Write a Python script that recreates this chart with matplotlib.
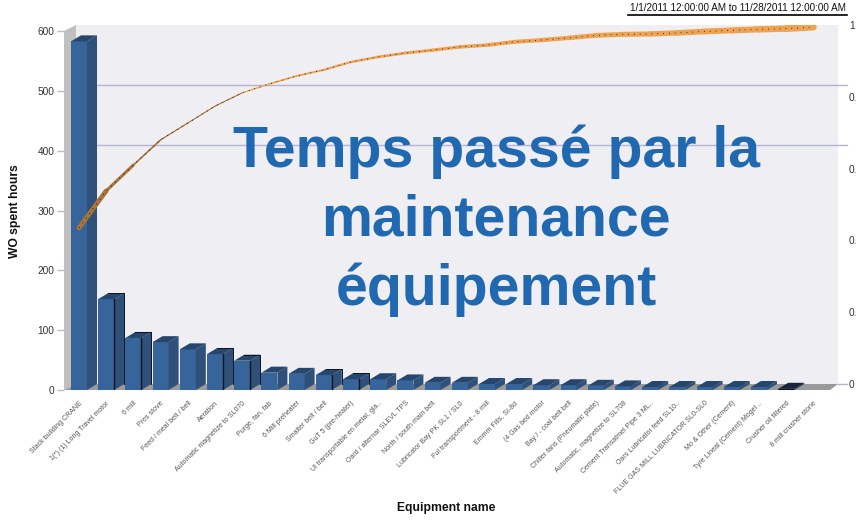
import numpy as np
import matplotlib.pyplot as plt
from matplotlib.patches import Polygon

# Pareto of maintenance hours per equipment
equipment = [
    "Stack building CRANE", "1(*) (1) Long Travel motor", "6 mill", "Pres stove",
    "Feed / meal belt / bell", "Aeration", "Automatic magnetize to SL070",
    "Purge, fan, fab", "6 Mill preheater", "Smalter belt / bell",
    "GuT 5 (pre-heater)", "Ul transportable en metal, gla..",
    "Oard / alternar SLEVL TPS", "North / south main belt",
    "Lubricator Bay PK SL1 / SL0", "Ful transportment - 8 mill",
    "Emmm Fills, SI-8d", "(4 Gas bed motor", "Bay / - coal belt bell",
    "Chiller fans (Pneumatic plate)", "Automatic, magnetize to SL708",
    "Cement Transatmel Pipe 3 ML..", "Oars Lubricator feed SL10..",
    "FLUE GAS MILL LUBRICATOR SL0-SL0", "Mo & Other (Cement)",
    "Tyre Lineal (Cement) Mogel ..", "Crusher oil filtered", "8 mill crusher stone",
]
wo_hours = [583, 152, 87, 80, 68, 60, 49, 29, 27, 25, 18, 18, 16, 12,
            12, 10, 10, 8, 8, 7, 6, 5, 5, 5, 5, 5, 2, 0]
cumulative = [0.435, 0.538, 0.61, 0.68, 0.727, 0.774, 0.811, 0.836, 0.858, 0.875,
              0.897, 0.911, 0.922, 0.930, 0.939, 0.944, 0.953, 0.958, 0.964, 0.971,
              0.974, 0.975, 0.978, 0.982, 0.985, 0.988, 0.99, 0.994]
left_ticks = [0, 100, 200, 300, 400, 500, 600]
right_ticks = [0, 0.2, 0.4, 0.6, 0.8, 1]
right_labels = ["0", "0.", "0.", "0.", "0.", "1"]
grid_levels = [400, 500]

WIDTH, HEIGHT = 859, 520
bar_color = '#37659b'
side_color = '#2f5079'
top_color = '#26466e'
wall_color = '#eeeef3'
tick_color = '#b9b9d6'
title_color = '#2068b0'

fig = plt.figure(figsize=(WIDTH / 100, HEIGHT / 100), dpi=100)
plt.rcParams['font.family'] = ['Liberation Sans', 'DejaVu Sans']
ax = fig.add_axes([64 / WIDTH, 1 - 390 / HEIGHT, (838 - 64) / WIDTH, 365 / HEIGHT])

step = 27.2
ax.set_xlim((64 - 79) / step, (838 - 79) / step)
ax.set_ylim(0, 365 / 0.598)
ax.set_facecolor('white')

x_lo, x_hi = ax.get_xlim()
y_hi = ax.get_ylim()[1]
depth_x = 10 / step
depth_y = 6 / 0.598
wall_x = x_lo + 12 / step
bar_width = 16 / step

# 3D box: back wall, left wall and floor
ax.add_patch(Polygon([(wall_x, depth_y), (wall_x, y_hi), (x_hi, y_hi), (x_hi, depth_y)],
                     color=wall_color, lw=0, zorder=1))
ax.add_patch(Polygon([(x_lo, 0), (x_lo, y_hi - depth_y), (wall_x, y_hi), (wall_x, depth_y)],
                     color='#c0c0c0', lw=0, zorder=1))
ax.add_patch(Polygon([(x_lo, 0), (wall_x, depth_y), (x_hi, depth_y), (x_hi - 8 / step, 0)],
                     color='#9a9a9a', lw=0, zorder=1))

for level in grid_levels:
    ax.plot([wall_x, x_hi + 9 / step], [level + depth_y] * 2, color='#b4b4d2', lw=1,
            clip_on=False, zorder=2)
ax.plot([x_hi, x_hi + 9 / step], [depth_y] * 2, color='#b4b4d2', lw=1, clip_on=False, zorder=2)

xs = np.arange(len(wo_hours))
black_edge = [1, 2, 5, 6, 9, 10]
for i, h in zip(xs, wo_hours):
    if h == 0:
        continue
    x0 = i - bar_width / 2
    x1 = i + bar_width / 2
    z = 3 + 0.01 * i
    front, side, top = bar_color, side_color, top_color
    if i == len(xs) - 2:
        # this one renders almost black in the source
        front, side, top = '#0c1420', '#1f3554', '#16263e'
    ax.bar(i, h, width=bar_width, color=front, zorder=z)
    ax.add_patch(Polygon([(x1, 0), (x1 + depth_x, depth_y), (x1 + depth_x, h + depth_y), (x1, h)],
                         color=side, lw=0, zorder=z))
    ax.add_patch(Polygon([(x0, h), (x0 + depth_x, h + depth_y), (x1 + depth_x, h + depth_y), (x1, h)],
                         color=top, lw=0, zorder=z))
    if i in black_edge:
        ax.plot([x1, x1], [0, h], color='#0c1420', lw=1, zorder=z + 0.5)
        ax.plot([x0 + depth_x, x1 + depth_x, x1 + depth_x], [h + depth_y, h + depth_y, depth_y],
                color='#0c1420', lw=0.7, zorder=z + 0.5)

ax.set_xticks(xs)
ax.set_xticklabels(equipment, rotation=45, ha='right', va='top', rotation_mode='anchor',
                   fontsize=5, color='#555555')
ax.tick_params(axis='x', length=0, pad=7)
ax.set_yticks(left_ticks)
ax.tick_params(axis='y', length=5, width=1, color=tick_color, labelsize=7.3,
               labelcolor='#333333', pad=2)
for spine in ax.spines.values():
    spine.set_visible(False)

# Cumulative share, on its own scale
ax2 = ax.twinx()
ax2.set_ylim(-6 / 359, 1)
ax2.set_yticks(right_ticks)
ax2.set_yticklabels(right_labels, fontsize=7.3, color='#333333')
ax2.tick_params(axis='y', length=0, pad=8)
for spine in ax2.spines.values():
    spine.set_visible(False)
ax2.patch.set_visible(False)

n_seg = len(cumulative) - 1
start_widths = [3.4, 2.2, 1.2, 0.9, 0.8, 0.8]
for i in range(n_seg):
    if i < len(start_widths):
        lw, col = start_widths[i], '#a9743a'
    else:
        lw, col = 1.0 + 4.0 * (i - 6) / (n_seg - 6), '#eea352'
    ax2.plot(xs[i:i + 2], cumulative[i:i + 2], color=col, lw=lw, solid_capstyle='round', zorder=5)
ax2.plot(xs, cumulative, color='black', lw=0.6, ls=(0, (1, 6)), zorder=6)

ax.set_zorder(1)
ax2.set_zorder(2)


# Labels placed by pixel position (y measured from the top)
def px_text(x, y, s, **kw):
    return fig.text(x / WIDTH, 1 - y / HEIGHT, s, **kw)


px_text(15, 211, "WO spent hours", rotation=90, ha='center', va='center',
        fontsize=8.7, fontweight='bold', color='#111111')
px_text(446, 508, "Equipment name", ha='center', va='center',
        fontsize=8.7, fontweight='bold', color='#111111')
px_text(738, 8, "1/1/2011 12:00:00 AM to 11/28/2011 12:00:00 AM", ha='center', va='center',
        fontsize=7.1, color='#111111')
fig.add_artist(plt.Line2D([628 / WIDTH, 847 / WIDTH], [1 - 14.5 / HEIGHT] * 2,
                          color='black', lw=1.2))

for y, line in zip([167, 236, 305], ["Temps passé par la", "maintenance", "équipement"]):
    px_text(496, y, line, ha='center', va='baseline', fontsize=41.2, fontweight='bold',
            color=title_color, zorder=10)

fig.savefig('out.png', dpi=100)
plt.close(fig)
